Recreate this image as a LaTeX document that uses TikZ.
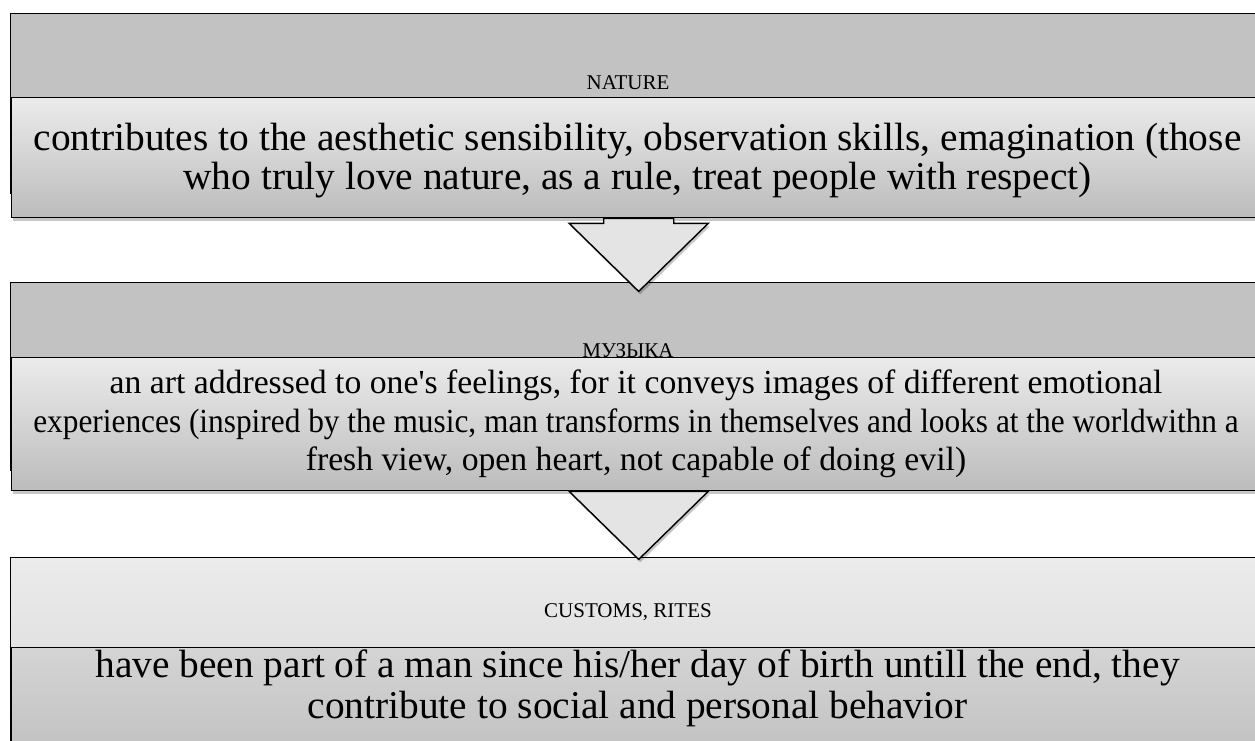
\documentclass[tikz,border=0pt]{standalone}
\usepackage{fontspec}
\setmainfont{Liberation Serif}
\usepackage{graphicx}
\usetikzlibrary{shadows,calc}
\definecolor{hdrgray}{HTML}{C2C2C2}
\definecolor{boxtop}{HTML}{EBEBEB}
\definecolor{boxbot}{HTML}{BCBCBC}
\definecolor{lighttop}{HTML}{EBEBEB}
\definecolor{lightbot}{HTML}{D2D2D2}
\definecolor{cusbot}{HTML}{BEBEBE}
\definecolor{arrowgray}{HTML}{E4E4E4}
\tikzset{
  softshadow/.style={drop shadow={shadow xshift=1.5pt, shadow yshift=-3pt, opacity=0.22, fill=black}},
  hdrbox/.style={draw=black, line width=1.4pt, rectangle, anchor=north west, inner sep=0pt, softshadow},
  txtbox/.style={draw=black, line width=1.4pt, rectangle, anchor=north west, inner sep=0pt, softshadow},
  lbl/.style={font=\fontsize{21}{25}\selectfont, inner sep=0pt},
  bigtxt/.style={font=\fontsize{39.4}{39}\selectfont, align=center, inner sep=0pt},
  custxt/.style={font=\fontsize{39.4}{41}\selectfont, align=center, inner sep=0pt},
  midtxt/.style={font=\fontsize{33.7}{38.5}\selectfont, align=center, inner sep=0pt},
  arrowshape/.style={draw=black, line width=1.4pt, fill=arrowgray, line join=miter, softshadow}
}
\begin{document}
\begin{tikzpicture}[x=1pt,y=-1pt]
\useasboundingbox (0,0) rectangle (1255,740);
\clip (0,0) rectangle (1255,740);
\fill[white] (0,0) rectangle (1255,740);
% NATURE
\node[hdrbox, fill=hdrgray, minimum width=1255pt, minimum height=180pt] (nat_h) at (10,13) {};
\node[lbl] (nat_l) at (628,83) {NATURE};
\node[txtbox, top color=boxtop, bottom color=boxbot, minimum width=1254pt, minimum height=120pt] (nat_t) at (11,97) {};
\node[bigtxt] (nat_x) at (637.5,161) {contributes to the aesthetic sensibility, observation skills, emagination (those\\who truly love nature, as a rule, treat people with respect)};
% MUSIC
\node[hdrbox, fill=hdrgray, minimum width=1255pt, minimum height=188pt] (mus_h) at (10,282) {};
\node[lbl] (mus_l) at (628,351) {МУЗЫКА};
\node[txtbox, top color=boxtop, bottom color=boxbot, minimum width=1254pt, minimum height=133pt] (mus_t) at (11,357) {};
\node[midtxt] (mus_x) at (636,424) {an art addressed to one\textquotesingle s feelings, for it conveys images of different emotional\\\scalebox{0.93}[1]{experiences (inspired by the music, man transforms in themselves and looks at the worldwithn a}\\fresh view, open heart, not capable of doing evil)};
% CUSTOMS
\node[hdrbox, top color=lighttop, bottom color=lightbot, minimum width=1255pt, minimum height=250pt] (cus_h) at (10,557) {};
\node[lbl] (cus_l) at (628,612) {CUSTOMS, RITES};
\node[txtbox, top color=lightbot!90!lighttop, bottom color=cusbot, minimum width=1254pt, minimum height=125pt] (cus_t) at (11,647) {};
\node[custxt] (cus_x) at (637.5,688) {have been part of a man since his/her day of birth untill the end, they\\contribute to social and personal behavior};
% arrows
\draw[arrowshape] ($(nat_t.south)+(-35,0)$) -- ++(70,0) -- ++(0,5) -- ++(34.5,0)
  -- ($(nat_t.south)+(0,73)$) -- ($(nat_t.south)+(-69.5,5)$) -- ++(34.5,0) -- cycle;
\draw[arrowshape] ($(mus_t.south)+(-69.5,0)$) -- ++(139,0)
  -- ($(mus_t.south)+(0,68)$) -- cycle;
\end{tikzpicture}
\end{document}
